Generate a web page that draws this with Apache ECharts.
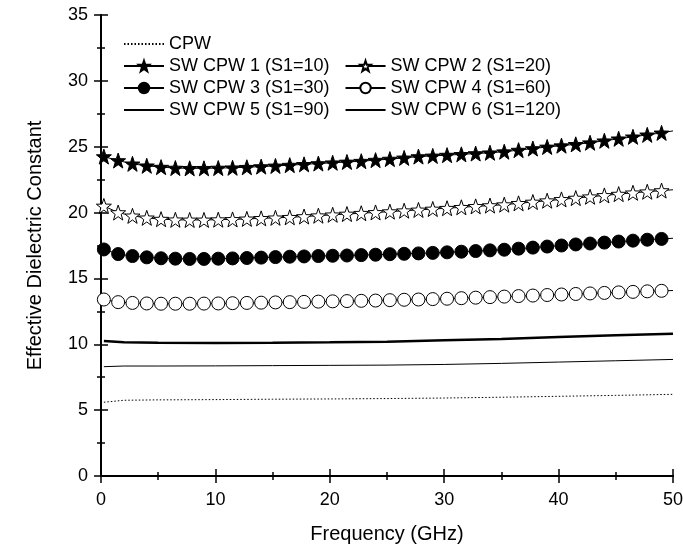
<!DOCTYPE html>
<html>
<head>
<meta charset="utf-8">
<script src="https://cdn.jsdelivr.net/npm/echarts@6/dist/echarts.min.js"></script>
<style>
  html, body { margin: 0; padding: 0; background: #fff; }
  #main { width: 683px; height: 546px; }
</style>
</head>
<body>
<div id="main"></div>
<script>
// frequency points where the markers sit (GHz), last one is the line end
var freqMarked = [0.25, 1.5, 2.75, 4, 5.25, 6.5, 7.75, 9, 10.25, 11.5, 12.75, 14, 15.25, 16.5, 17.75, 19, 20.25, 21.5, 22.75, 24,
    25.25, 26.5, 27.75, 29, 30.25, 31.5, 32.75, 34, 35.25, 36.5, 37.75, 39, 40.25, 41.5, 42.75, 44, 45.25, 46.5, 47.75, 49, 50];
var sw1 = [24.25, 23.95, 23.7, 23.55, 23.45, 23.38, 23.36, 23.36, 23.38, 23.4, 23.44, 23.49, 23.54, 23.6, 23.66, 23.72, 23.78, 23.84, 23.9, 23.98,
    24.06, 24.15, 24.25, 24.3, 24.36, 24.42, 24.48, 24.54, 24.62, 24.74, 24.86, 24.98, 25.08, 25.18, 25.3, 25.45, 25.6, 25.75, 25.9, 26.05, 26.2];
var sw2 = [20.5, 20.0, 19.75, 19.6, 19.5, 19.45, 19.44, 19.44, 19.46, 19.48, 19.52, 19.56, 19.6, 19.64, 19.7, 19.76, 19.83, 19.89, 19.95, 20.01,
    20.07, 20.14, 20.2, 20.27, 20.33, 20.4, 20.47, 20.53, 20.6, 20.7, 20.8, 20.9, 21.0, 21.1, 21.2, 21.3, 21.4, 21.5, 21.58, 21.67, 21.73];
var sw3 = [17.2, 16.85, 16.7, 16.6, 16.53, 16.5, 16.48, 16.48, 16.5, 16.52, 16.55, 16.58, 16.62, 16.65, 16.67, 16.7, 16.72, 16.74, 16.77, 16.8,
    16.84, 16.87, 16.9, 16.94, 16.98, 17.03, 17.08, 17.13, 17.18, 17.26, 17.34, 17.42, 17.5, 17.58, 17.65, 17.72, 17.8, 17.87, 17.94, 18.0, 18.05];
var sw4 = [13.4, 13.2, 13.14, 13.1, 13.08, 13.08, 13.08, 13.09, 13.1, 13.12, 13.14, 13.16, 13.18, 13.2, 13.22, 13.24, 13.26, 13.28, 13.3, 13.32,
    13.35, 13.38, 13.4, 13.43, 13.46, 13.5, 13.54, 13.58, 13.62, 13.66, 13.7, 13.74, 13.78, 13.82, 13.86, 13.9, 13.94, 13.98, 14.02, 14.06, 14.08];

// plain lines
var freqPlain = [0.25, 2, 5, 10, 15, 20, 25, 30, 35, 40, 45, 50];
var sw5 = [10.25, 10.15, 10.12, 10.1, 10.12, 10.15, 10.2, 10.3, 10.4, 10.55, 10.68, 10.8];
var sw6 = [8.3, 8.35, 8.35, 8.36, 8.38, 8.4, 8.42, 8.47, 8.55, 8.65, 8.75, 8.85];
var cpw = [5.6, 5.75, 5.78, 5.8, 5.83, 5.85, 5.88, 5.92, 5.98, 6.05, 6.12, 6.2];

var names = ['CPW', 'SW CPW 1 (S1=10)', 'SW CPW 2 (S1=20)', 'SW CPW 3 (S1=30)',
    'SW CPW 4 (S1=60)', 'SW CPW 5 (S1=90)', 'SW CPW 6 (S1=120)'];

var font = 'Liberation Sans, Arial, sans-serif';
var star = 'path://M0,-10L2.35,-3.24L9.51,-3.09L3.8,1.24L5.88,8.09L0,4L-5.88,8.09L-3.8,1.24L-9.51,-3.09L-2.35,-3.24Z';
// a symbol with no area, so legend icons of plain lines show only the line
var noMark = 'path://M0,0L1,1';

function pairs(xs, ys, markLast) {
    var out = [];
    for (var i = 0; i < xs.length; i++) {
        if (markLast && i == xs.length - 1) {
            out.push({value: [xs[i], ys[i]], symbol: 'none'});
        } else {
            out.push([xs[i], ys[i]]);
        }
    }
    return out;
}

function markSeries(name, ys, symbol, filled, size) {
    return {
        name: name,
        type: 'line',
        data: pairs(freqMarked, ys, true),
        symbol: symbol,
        symbolSize: size,
        showAllSymbol: true,
        lineStyle: {color: '#000', width: 1},
        itemStyle: {color: filled ? '#000' : '#fff', borderColor: '#000', borderWidth: 1},
        z: 3
    };
}

function plainSeries(name, ys, width, type) {
    return {
        name: name,
        type: 'line',
        data: pairs(freqPlain, ys, false),
        symbol: noMark,
        showSymbol: false,
        lineStyle: {color: '#000', width: width, type: type},
        itemStyle: {color: '#000', borderWidth: 0}
    };
}

function legendRow(top, data) {
    return {
        left: 123,
        top: top,
        padding: 0,
        orient: 'horizontal',
        itemWidth: 40,
        itemHeight: 13,
        itemGap: 15,
        data: data,
        textStyle: {fontSize: 18, fontFamily: font, color: '#000'}
    };
}

var axisLine = {show: true, lineStyle: {color: '#000', width: 2}};
var tickStyle = {color: '#000', width: 1.5};

var option = {
    animation: false,
    backgroundColor: '#fff',
    grid: {left: 101, right: 10, top: 15, bottom: 70, outerBoundsMode: 'none'},
    legend: [
        legendRow(35, [names[0]]),
        legendRow(57, [names[1], names[2]]),
        legendRow(79, [names[3], names[4]]),
        legendRow(101, [names[5], names[6]])
    ],
    xAxis: [{
        type: 'value',
        min: 0, max: 50, interval: 10,
        name: 'Frequency (GHz)',
        nameLocation: 'middle',
        nameGap: 48,
        nameTextStyle: {fontSize: 20, fontFamily: font, color: '#000'},
        axisLine: axisLine,
        axisTick: {show: true, inside: false, length: 7, lineStyle: tickStyle},
        minorTick: {show: true, splitNumber: 2, length: 4, lineStyle: tickStyle},
        axisLabel: {fontSize: 18, fontFamily: font, color: '#000', margin: 15},
        splitLine: {show: false}
    }, {
        type: 'value', position: 'top',
        min: 0, max: 50, interval: 10,
        axisLine: axisLine,
        axisTick: {show: true, length: 7, lineStyle: tickStyle},
        minorTick: {show: true, splitNumber: 2, length: 4, lineStyle: tickStyle},
        axisLabel: {show: false},
        splitLine: {show: false}
    }],
    yAxis: [{
        type: 'value',
        min: 0, max: 35, interval: 5,
        name: 'Effective Dielectric Constant',
        nameLocation: 'middle',
        nameGap: 56,
        nameTextStyle: {fontSize: 20, fontFamily: font, color: '#000'},
        axisLine: axisLine,
        axisTick: {show: true, length: 7, lineStyle: tickStyle},
        minorTick: {show: true, splitNumber: 2, length: 4, lineStyle: tickStyle},
        axisLabel: {fontSize: 18, fontFamily: font, color: '#000', margin: 13},
        splitLine: {show: false}
    }, {
        type: 'value', position: 'right',
        min: 0, max: 35, interval: 5,
        axisLine: axisLine,
        axisTick: {show: true, length: 7, lineStyle: tickStyle},
        minorTick: {show: true, splitNumber: 2, length: 4, lineStyle: tickStyle},
        axisLabel: {show: false},
        splitLine: {show: false}
    }],
    series: [
        plainSeries(names[0], cpw, 1, [1.5, 2]),
        markSeries(names[1], sw1, star, true, 15),
        markSeries(names[2], sw2, star, false, 15),
        markSeries(names[3], sw3, 'circle', true, 13),
        markSeries(names[4], sw4, 'circle', false, 13),
        plainSeries(names[5], sw5, 2.5, 'solid'),
        plainSeries(names[6], sw6, 1, 'solid')
    ]
};

var chart = echarts.init(document.getElementById('main'));
chart.setOption(option);
</script>
</body>
</html>
